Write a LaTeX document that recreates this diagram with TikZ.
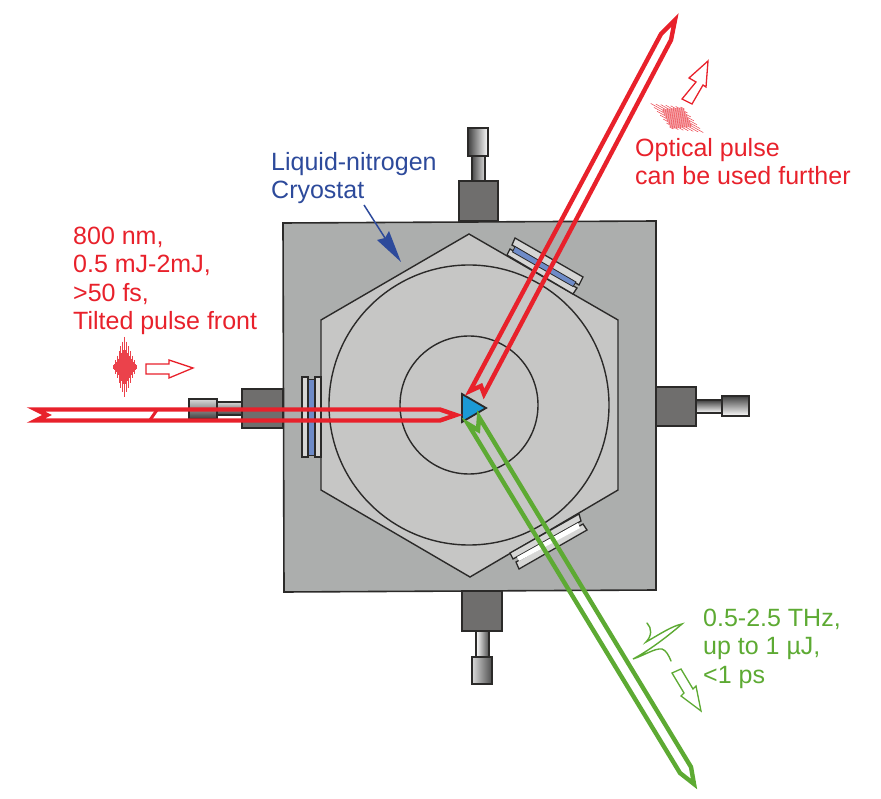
\documentclass[tikz,border=0pt]{standalone}
\usepackage{fontspec}
\setmainfont{Liberation Sans}
\definecolor{rd}{HTML}{E8212B}
\definecolor{gn}{HTML}{5DAA33}
\definecolor{bl}{HTML}{2D4A9B}
\definecolor{plategray}{HTML}{ACAEAD}
\definecolor{hexgray}{HTML}{C6C6C5}
\definecolor{blockgray}{HTML}{6F6E6D}
\definecolor{edge}{HTML}{2B2A29}
\definecolor{winblue}{HTML}{6E8BC8}
\definecolor{winplate}{HTML}{D6D6D5}
\definecolor{prism}{HTML}{1B9AD6}
\tikzset{
  part/.style={draw=edge,line width=1.4pt},
  block/.style={draw=edge,fill=blockgray,line width=1.8pt},
  fitting/.style={draw=edge,line width=1.5pt},
  beamred/.style={draw=rd,line width=4.4pt,miter limit=10,line join=miter},
  beamgreen/.style={draw=gn,line width=4.4pt,miter limit=10,line join=miter},
  lbl/.style={font=\fontsize{25}{28.5}\selectfont,align=left,anchor=north west,inner sep=0pt},
  pulseline/.style={draw=rd!85,line width=0.5pt},
  win/.style={draw=edge,fill=winplate,line width=1.3pt}
}
\newcommand{\pulse}[3]{%
  \begin{scope}[shift={(#1,#2)},rotate=#3]
    \foreach \i in {-12,...,12} {
      \pgfmathsetmacro{\h}{(29*(1-abs(\i)/12.5)+1)*(0.8+0.2*cos(\i*180))}
      \draw[pulseline] (\i*0.95,-\h) -- (\i*0.95,\h);
    }
  \end{scope}}
\begin{document}
\begin{tikzpicture}[x=1pt,y=-1pt]
\useasboundingbox (0,0) rectangle (881,799);
% fittings top
\draw[fitting,left color=black!70,right color=white!85!black] (472,155) rectangle (485,181);
\draw[fitting,left color=black!75,right color=white] (468,128) rectangle (488,156);
\node[block,minimum width=39pt,minimum height=40pt,inner sep=0pt] (blockT) at (478.5,201) {};
% fittings right
\draw[fitting,top color=black!75,bottom color=white] (696,400) rectangle (722,413);
\draw[fitting,top color=black!75,bottom color=white] (722,396) rectangle (749,416);
\node[block,minimum width=40pt,minimum height=39pt,inner sep=0pt] (blockR) at (676,406.5) {};
% fittings left
\draw[fitting,top color=white!85!black,bottom color=black!75] (217,402) rectangle (242,415);
\draw[fitting,top color=white!85!black,bottom color=black!75] (189,399) rectangle (217,419);
\node[block,minimum width=41pt,minimum height=39pt,inner sep=0pt] (blockL) at (262.5,408.5) {};
% fittings bottom
\draw[fitting,left color=white,right color=black!70] (476,631) rectangle (489,657);
\draw[fitting,left color=white!85!black,right color=black!70] (472,657) rectangle (492,684);
\node[block,minimum width=40pt,minimum height=40pt,inner sep=0pt] (blockB) at (482,611) {};
% plate
\draw[part,fill=plategray,line width=1.6pt] (283,223) -- (656,221) -- (656,590) -- (284,592) -- cycle;
\draw[part,fill=hexgray] (469,234) -- (618,320) -- (618,490) -- (470,577) -- (321,490) -- (321,320) -- cycle;
\node[part,circle,minimum size=280pt,inner sep=0pt] (outerC) at (469,405) {};
\node[part,circle,minimum size=138pt,inner sep=0pt] (innerC) at (469,405) {};
% left window
\draw[draw=edge,line width=0.8pt,fill=winblue] (308,379) rectangle (315,455);
\draw[win] (302,377) rectangle (308,457);
\draw[win] (315,377) rectangle (321,457);
% top-right window
\draw[win] (515,238) -- (583,277) -- (579,285) -- (512,245) -- cycle;
\draw[win] (510,249) -- (577,288) -- (573,294) -- (507,255) -- cycle;
\draw[draw=edge,line width=0.8pt,fill=winblue] (515,246.5) -- (576,282) -- (573,286.5) -- (512.5,252) -- cycle;
% bottom-right window
\draw[win] (510,553) -- (579,514) -- (581,521) -- (513,559) -- cycle;
\draw[win] (516,562) -- (583,524) -- (587,530) -- (519,569) -- cycle;
\draw[draw=none,fill=white] (517,557) -- (578,523) -- (580,528) -- (519,561) -- cycle;
% prism
\node[draw=none,inner sep=0pt] (prismC) at (470,408) {};
\draw[draw=edge,fill=prism,line width=1.8pt] (462,394) -- (486,408) -- (462,422) -- cycle;
% beams
\draw[beamred] (36,409.5) -- (440,409.5) -- (456,415) -- (440,420.5) -- (36,420.5) -- (47,415) -- cycle;
\draw[draw=rd,line width=3pt] (157,410) -- (150,420);
\draw[beamred] (661,34) -- (675,20) -- (671,40) -- (484,394) -- (481,386) -- (470,391) -- cycle;
\draw[beamgreen] (680,773) -- (694,784) -- (691,767) -- (479,417) -- (478,430) -- (468,424) -- cycle;
% small arrows
\draw[rd,line width=1.3pt] (146,364) -- (169,364) -- (169,360) -- (193,368) -- (169,378) -- (169,374) -- (146,374) -- cycle;
\draw[rd,line width=1.3pt] (708,61) -- (689,78) -- (696,82) -- (682,99) -- (692,104) -- (703,85) -- (706,87) -- cycle;
\draw[gn,line width=1.3pt] (672,673) -- (681,669) -- (693,689) -- (696,686) -- (701,711) -- (681,696) -- (684,693) -- cycle;
% pulses
\pulse{124.5}{367}{0}
\pulse{677}{118}{61}
% THz wave
\draw[gn,line width=1.4pt,line cap=round] (647,623) .. controls (652,628) and (652,636) .. (646,642) .. controls (660,634) and (672,626) .. (682,624) .. controls (668,636) and (650,650) .. (633,659) .. controls (645,655) and (655,648) .. (662,649) .. controls (666,650) and (669,656) .. (671,661);
% Cryostat arrow
\coordinate (arrowStart) at (364,205);
\coordinate (arrowEnd) at (401,262);
\draw[bl,line width=1.5pt] (arrowStart) -- (385,238);
\fill[bl] (arrowEnd) -- (377,240) -- (385,238) -- (389,231) -- cycle;
% labels
\node[lbl,text=rd] (tPump) at (73,226.5) {800 nm,\\0.5 mJ-2mJ,\\>50 fs,\\Tilted pulse front};
\node[lbl,text=rd] (tProbe) at (635,138) {Optical pulse\\can be used further};
\node[lbl,text=bl] (tCryo) at (271,152) {Liquid-nitrogen\\Cryostat};
\node[lbl,text=gn] (tThz) at (703,608.5) {0.5-2.5 THz,\\up to 1 µJ,\\<1 ps};
\end{tikzpicture}
\end{document}
